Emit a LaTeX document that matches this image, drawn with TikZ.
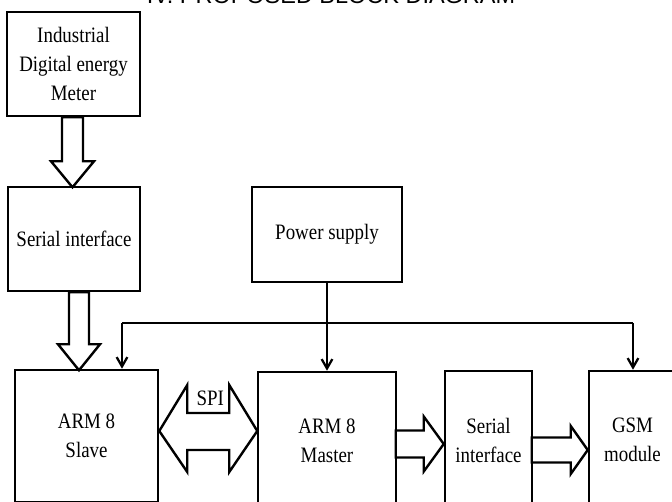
\documentclass[tikz,border=0pt]{standalone}
\usepackage{fontspec}
\setmainfont{Liberation Serif}[FakeStretch=0.86]
\newfontfamily\headfont{Liberation Sans}
\usetikzlibrary{calc,arrows.meta}

\begin{document}
\begin{tikzpicture}[x=0.75pt, y=-0.75pt,
    blk/.style={draw, line width=1.9pt, align=center, inner sep=0pt, font=\fontsize{16.5}{21.75}\selectfont},
    lbl/.style={font=\fontsize{16.5}{21.75}\selectfont, inner sep=0pt},
    blockarr/.style={draw, line width=1.8pt, line join=miter},
    wire/.style={draw, line width=1.7pt},
    tip/.style={-{Straight Barb[length=7pt,width=8pt]}}]
        \useasboundingbox (0,0) rectangle (672,502);
        \clip (0,0) rectangle (672,502);
        \node[font=\headfont\fontsize{17.6}{20}\selectfont, anchor=base] (title) at (331,4) {IV. PROPOSED BLOCK DIAGRAM};

        \node[blk, minimum width=99.75pt, minimum height=78pt] (meter) at (73.5,64) {Industrial\\Digital energy\\Meter};
        \node[blk, minimum width=99pt, minimum height=78pt] (serl) at (74,239) {Serial interface};
        \node[blk, minimum width=112.5pt, minimum height=71.25pt] (power) at (327,234.5) {Power supply};
        \node[blk, minimum width=107.25pt, minimum height=99pt] (slave) at (86.5,436) {ARM 8\\Slave};
        \node[blk, minimum width=103.5pt, minimum height=103.5pt] (master) at (327,441) {ARM 8\\Master};
        \node[blk, minimum width=65.25pt, minimum height=103.5pt] (serr) at (488.5,440) {Serial\\interface};
        \node[blk, minimum width=65.25pt, minimum height=103.5pt] (gsm) at (632.5,440) {GSM\\module};

        % power bus
        \coordinate (busl) at (122,323);
        \coordinate (busr) at (633,323);
        \draw[wire] (busl) -- (busr);
        \draw[wire, tip] (busl) -- (busl |- slave.north);
        \draw[wire, tip] (busr) -- (busr |- gsm.north);
        \draw[wire, tip] (power.south) -- (master.north);

        % block arrows
        \draw[blockarr] ($(meter.south)+(-11.5,0)$) -- ++(0,44) -- ++(-11,0) -- ++(21.5,26) -- ++(21.5,-26) -- ++(-11,0) -- ++(0,-44) -- cycle;
        \draw[blockarr] ($(serl.south)+(-5,0)$) -- ++(0,52) -- ++(-11,0) -- ++(21,26) -- ++(21,-26) -- ++(-11,0) -- ++(0,-52) -- cycle;

        \coordinate (spil) at ($(slave.east)+(0,-5)$);
        \draw[blockarr] (spil) -- ++(28,-46) -- ++(0,28) -- ++(42,0) -- ++(0,-28) -- ++(28,46) -- ++(-28,41) -- ++(0,-22) -- ++(-42,0) -- ++(0,22) -- cycle;
        \node[lbl] (spi) at ($(spil)+(51,-33)$) {SPI};

        \coordinate (t3) at ($(serr.west)+(0,4)$);
        \draw[blockarr] (t3) -- ++(-20,-27.5) -- ++(0,14) -- ++(-28,0) -- ++(0,27) -- ++(28,0) -- ++(0,14) -- cycle;
        \coordinate (t4) at ($(gsm.west)+(0,10)$);
        \draw[blockarr] (t4) -- ++(-17,-24) -- ++(0,11.5) -- ++(-39,0) -- ++(0,25) -- ++(39,0) -- ++(0,11.5) -- cycle;
      \end{tikzpicture}
\end{document}
